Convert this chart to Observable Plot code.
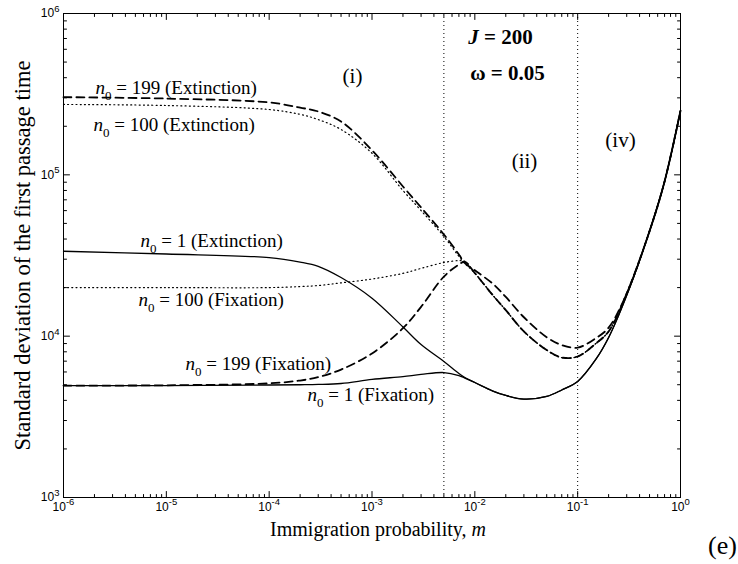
<!DOCTYPE html>
<html>
<head>
<meta charset="utf-8">
<script src="https://cdn.jsdelivr.net/npm/d3@7"></script>
<script src="https://cdn.jsdelivr.net/npm/@observablehq/plot@0.6"></script>
<style>
  html, body { margin: 0; padding: 0; background: #fff; }
  #chart svg { display: block; }
</style>
</head>
<body>
<div id="chart"></div>
<script>
// Immigration probability m (shared sample grid for every curve)
const m = [1e-6, 1e-5, 1e-4, 2e-4, 3e-4, 5e-4, 1e-3, 2e-3, 3e-3, 5e-3, 7e-3, 8e-3,
           1e-2, 1.5e-2, 2e-2, 3e-2, 5e-2, 7e-2, 0.1, 0.15, 0.2, 0.3, 0.5, 0.7, 1];

// Standard deviation of the first passage time, extinction
const ext199 = [3.03e5, 2.97e5, 2.81e5, 2.61e5, 2.47e5, 2.14e5, 1.42e5, 8.47e4, 6.28e4, 4.27e4, 3.21e4, 2.84e4,
                2.56e4, 2.11e4, 1.75e4, 1.31e4, 9.85e3, 8.81e3, 8.49e3, 9.71e3, 1.13e4, 1.84e4, 4.48e4, 9.09e4, 2.5e5];
const ext100 = [2.73e5, 2.69e5, 2.54e5, 2.37e5, 2.20e5, 1.91e5, 1.36e5, 8.0e4, 6.01e4, 4.15e4, 3.12e4, 2.82e4,
                2.46e4, 1.79e4, 1.45e4, 1.07e4, 8.2e3, 7.37e3, 7.48e3, 9.0e3, 1.07e4, 1.84e4, 4.48e4, 9.09e4, 2.5e5];
const ext1   = [3.36e4, 3.23e4, 3.07e4, 2.88e4, 2.71e4, 2.31e4, 1.72e4, 1.14e4, 8.88e3, 6.97e3, 5.87e3, 5.54e3,
                5.16e3, 4.57e3, 4.29e3, 4.07e3, 4.23e3, 4.64e3, 5.24e3, 7.17e3, 9.81e3, 1.79e4, 4.48e4, 9.09e4, 2.5e5];

// Standard deviation of the first passage time, fixation
const fix100 = [2.0e4, 2.0e4, 2.0e4, 2.03e4, 2.06e4, 2.14e4, 2.26e4, 2.45e4, 2.63e4, 2.86e4, 2.94e4, 2.91e4,
                2.46e4, 1.79e4, 1.45e4, 1.07e4, 8.2e3, 7.37e3, 7.48e3, 9.0e3, 1.07e4, 1.84e4, 4.48e4, 9.09e4, 2.5e5];
const fix199 = [4.94e3, 4.96e3, 5.10e3, 5.31e3, 5.57e3, 6.21e3, 7.81e3, 1.12e4, 1.52e4, 2.34e4, 2.78e4, 2.89e4,
                2.46e4, 1.79e4, 1.45e4, 1.07e4, 8.2e3, 7.37e3, 7.48e3, 9.0e3, 1.07e4, 1.84e4, 4.48e4, 9.09e4, 2.5e5];
const fix1   = [4.94e3, 4.94e3, 4.98e3, 5.0e3, 5.02e3, 5.09e3, 5.39e3, 5.62e3, 5.79e3, 5.95e3, 5.70e3, 5.5e3,
                5.16e3, 4.57e3, 4.29e3, 4.07e3, 4.23e3, 4.64e3, 5.24e3, 7.17e3, 9.81e3, 1.79e4, 4.48e4, 9.09e4, 2.5e5];

// Regime boundaries
const boundaries = [0.005, 0.1];

// Axis decades
const xDecades = [1e-6, 1e-5, 1e-4, 1e-3, 1e-2, 1e-1, 1];
const yDecades = [1e3, 1e4, 1e5, 1e6];

// Curve labels and their anchors (data units, left edge / baseline)
const curveLabels = [
  {text: "n0 = 199 (Extinction)", m: 2.05e-6, sd: 3.19e5},
  {text: "n0 = 100 (Extinction)", m: 1.96e-6, sd: 1.88e5},
  {text: "n0 = 1 (Extinction)",   m: 5.61e-6, sd: 3.55e4},
  {text: "n0 = 100 (Fixation)",   m: 5.36e-6, sd: 1.53e4},
  {text: "n0 = 199 (Fixation)",   m: 1.54e-5, sd: 6.13e3},
  {text: "n0 = 1 (Fixation)",     m: 2.36e-4, sd: 3.99e3}
];
const regimeLabels = [
  {text: "(i)",  m: 6.46e-4, sd: 4.07e5},
  {text: "(ii)", m: 3.04e-2, sd: 1.21e5},
  {text: "(iv)", m: 0.261,   sd: 1.63e5}
];
const params = [
  {text: "J = 200",  m: 1.78e-2, sd: 7.10e5},
  {text: "ω = 0.05", m: 2.08e-2, sd: 4.25e5}
];

const rows = (ys) => m.map((x, i) => ({m: x, sd: ys[i]}));

const minors = (decades) => decades.slice(0, -1).flatMap(d => [2, 3, 4, 5, 6, 7, 8, 9].map(k => k * d));
const xMinor = minors(xDecades);
const yMinor = minors(yDecades);

const serif = "'Liberation Serif', 'Times New Roman', Times, serif";
const sans = "'Liberation Sans', Arial, Helvetica, sans-serif";

// Short inward tick drawn from the frame edge
const tickShape = {draw(context, l) { context.moveTo(0, 0); context.lineTo(0, -l); }};
const ticks = (data, channel, frameAnchor, rotate, length) =>
  Plot.vector(data, {[channel]: d => d, frameAnchor, rotate, length, anchor: "start",
                     shape: tickShape, stroke: "black", strokeWidth: 1});

const curve = "catmull-rom";
const expOf = d => Math.round(Math.log10(d));
const dotted = "1,3.2";
const dashed = "8,5";

const chart = Plot.plot({
  width: 738,
  height: 564,
  marginTop: 13,
  marginRight: 58,
  marginBottom: 67,
  marginLeft: 63,
  style: {background: "white", color: "black"},
  x: {type: "log", domain: [1e-6, 1], axis: null},
  y: {type: "log", domain: [1e3, 1e6], axis: null},
  marks: [
    // regime boundaries
    Plot.ruleX(boundaries, {stroke: "black", strokeWidth: 1, strokeDasharray: "1,3"}),

    // curves
    Plot.line(rows(fix1),   {x: "m", y: "sd", curve, stroke: "black", strokeWidth: 1.3}),
    Plot.line(rows(ext1),   {x: "m", y: "sd", curve, stroke: "black", strokeWidth: 1.3}),
    Plot.line(rows(fix100), {x: "m", y: "sd", curve, stroke: "black", strokeWidth: 1.2, strokeDasharray: dotted}),
    Plot.line(rows(ext100), {x: "m", y: "sd", curve, stroke: "black", strokeWidth: 1.2, strokeDasharray: dotted}),
    Plot.line(rows(fix199), {x: "m", y: "sd", curve, stroke: "black", strokeWidth: 1.8, strokeDasharray: dashed}),
    Plot.line(rows(ext199), {x: "m", y: "sd", curve, stroke: "black", strokeWidth: 1.8, strokeDasharray: dashed}),

    // frame and inward ticks on all four sides
    Plot.frame({stroke: "black", strokeWidth: 1}),
    ticks(xDecades, "x", "bottom", 0, 6),
    ticks(xDecades, "x", "top", 180, 6),
    ticks(xMinor, "x", "bottom", 0, 3),
    ticks(xMinor, "x", "top", 180, 3),
    ticks(yDecades, "y", "left", 90, 6),
    ticks(yDecades, "y", "right", -90, 6),
    ticks(yMinor, "y", "left", 90, 3),
    ticks(yMinor, "y", "right", -90, 3),

    // tick labels
    Plot.text(xDecades, {x: d => d, frameAnchor: "bottom", dy: 13, textAnchor: "middle", lineAnchor: "bottom",
      text: d => `10^${expOf(d)}`, fontFamily: sans, fontSize: 12, fill: "black"}),
    Plot.text(yDecades, {y: d => d, frameAnchor: "left", dx: -4, textAnchor: "end", lineAnchor: "middle",
      text: d => `10^${expOf(d)}`, fontFamily: sans, fontSize: 12, fill: "black"}),

    // axis titles
    Plot.text(["Immigration probability, m"], {frameAnchor: "bottom", dx: 6, dy: 38,
      textAnchor: "middle", lineAnchor: "bottom",
      text: d => d, fontFamily: serif, fontSize: 20, fill: "black"}),
    Plot.text(["Standard deviation of the first passage time"], {frameAnchor: "left", dx: -41, rotate: -90,
      textAnchor: "middle", lineAnchor: "middle",
      text: d => d, fontFamily: serif, fontSize: 22.5, fill: "black"}),
    Plot.text(["(e)"], {frameAnchor: "bottom-right", dx: 42, dy: 56, textAnchor: "middle", lineAnchor: "bottom",
      text: d => d, fontFamily: serif, fontSize: 26, fill: "black"}),

    // annotations
    Plot.text(curveLabels, {x: "m", y: "sd", text: "text", textAnchor: "start", lineAnchor: "bottom",
      fontFamily: serif, fontSize: 19, fill: "black"}),
    Plot.text(regimeLabels, {x: "m", y: "sd", text: "text", textAnchor: "middle", lineAnchor: "middle",
      fontFamily: serif, fontSize: 21, fill: "black"}),
    Plot.text(params, {x: "m", y: "sd", text: "text", textAnchor: "middle", lineAnchor: "middle",
      fontFamily: serif, fontSize: 21, fontWeight: "bold", fill: "black"})
  ]
});

// Typographic touch-ups: superscript exponents, subscripted n0 and italic symbols
const NS = "http://www.w3.org/2000/svg";
function span(parent, text, attrs = {}) {
  const t = document.createElementNS(NS, "tspan");
  t.textContent = text;
  for (const [k, v] of Object.entries(attrs)) t.setAttribute(k, v);
  parent.appendChild(t);
  return t;
}
chart.querySelectorAll("text").forEach(t => {
  const s = t.textContent;
  if (/^10\^/.test(s)) {
    const [base, exp] = s.split("^");
    t.textContent = "";
    span(t, base);
    span(t, exp, {dy: -5.5, "font-size": 9.5});
  } else if (/^n0 /.test(s)) {
    t.textContent = "";
    span(t, "n", {"font-style": "italic"});
    span(t, "0", {dy: 6, "font-size": 13});
    span(t, s.slice(2), {dy: -6});
  } else if (s.startsWith("Immigration")) {
    t.textContent = "";
    span(t, s.slice(0, -1));
    span(t, s.slice(-1), {"font-style": "italic"});
  } else if (s.startsWith("J =")) {
    t.textContent = "";
    span(t, "J", {"font-style": "italic"});
    span(t, s.slice(1));
  }
});

document.getElementById("chart").appendChild(chart);
</script>
</body>
</html>
